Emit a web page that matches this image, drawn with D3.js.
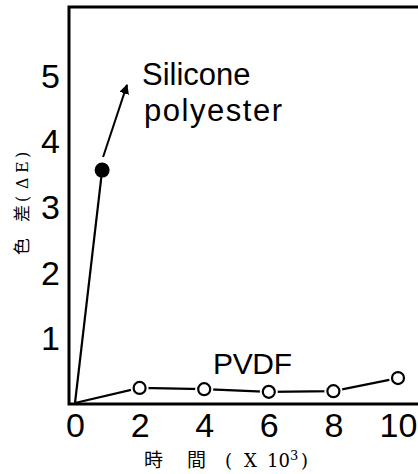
<!DOCTYPE html>
<html>
<head>
<meta charset="utf-8">
<script src="https://cdn.jsdelivr.net/npm/d3@7"></script>
<style>
  html, body { margin: 0; padding: 0; background: #fff; }
  svg { display: block; }
</style>
</head>
<body>
<svg id="chart" width="418" height="474"></svg>
<script>
// Colour difference (ΔE) against exposure time (×10³)
const xTicks = [0, 2, 4, 6, 8, 10];
const yTicks = [1, 2, 3, 4, 5];

const pvdfTime = [0, 2, 4, 6, 8, 10];
const pvdfDE   = [0, 0.23, 0.21, 0.17, 0.18, 0.38];

const siliconeTime = [0, 0.84];
const siliconeDE   = [0, 3.55];

// trend arrow continuing past the last silicone polyester reading
const trendTime = [0.87, 1.61];
const trendDE   = [3.75, 4.85];

const W = 418, H = 474;
const frame = { left: 69, top: 7, bottom: 404 };

const svg = d3.select("#chart");

const x = d3.scaleLinear().domain([0, 10]).range([75, 398]);
const y = d3.scaleLinear().domain([0, 5]).range([403, 75]);

const tickFont = "'Liberation Sans', Arial, sans-serif";

// frame: left, top and bottom rules (right side runs off the page)
svg.append("path")
  .attr("d", `M${W + 5},${frame.top} H${frame.left} V${frame.bottom} H${W + 5}`)
  .attr("fill", "none")
  .attr("stroke", "#000")
  .attr("stroke-width", 3);

// x axis tick labels
const xAxis = d3.axisBottom(x).tickValues(xTicks).tickSize(0).tickPadding(9)
  .tickFormat(d3.format("d"));
const gx = svg.append("g").attr("transform", `translate(0,${frame.bottom})`).call(xAxis);
gx.select(".domain").remove();
gx.selectAll("text")
  .attr("font-family", tickFont)
  .attr("font-size", 34)
  .attr("fill", "#000");

// y axis tick labels
const yAxis = d3.axisLeft(y).tickValues(yTicks).tickSize(0).tickPadding(9)
  .tickFormat(d3.format("d"));
const gy = svg.append("g").attr("transform", `translate(${frame.left},0)`).call(yAxis);
gy.select(".domain").remove();
gy.selectAll("text")
  .attr("font-family", tickFont)
  .attr("font-size", 34)
  .attr("dy", "0.36em")
  .attr("fill", "#000");

const line = d3.line().x(d => x(d[0])).y(d => y(d[1]));

// silicone polyester
const siliconePts = d3.zip(siliconeTime, siliconeDE);
svg.append("path")
  .attr("d", line(siliconePts))
  .attr("fill", "none")
  .attr("stroke", "#000")
  .attr("stroke-width", 2.2);

svg.append("defs").append("marker")
  .attr("id", "arrow")
  .attr("viewBox", "0 0 10 10")
  .attr("refX", 9).attr("refY", 5)
  .attr("markerWidth", 5).attr("markerHeight", 5)
  .attr("markerUnits", "strokeWidth")
  .attr("orient", "auto")
  .append("path")
  .attr("d", "M0,0 L10,5 L0,10 z")
  .attr("fill", "#000");

svg.append("path")
  .attr("d", line(d3.zip(trendTime, trendDE)))
  .attr("fill", "none")
  .attr("stroke", "#000")
  .attr("stroke-width", 2)
  .attr("marker-end", "url(#arrow)");

svg.append("circle")
  .attr("cx", x(siliconeTime[1]))
  .attr("cy", y(siliconeDE[1]))
  .attr("r", 7.5)
  .attr("fill", "#000");

// PVDF
const pvdfPts = d3.zip(pvdfTime, pvdfDE);
svg.append("path")
  .attr("d", line(pvdfPts))
  .attr("fill", "none")
  .attr("stroke", "#000")
  .attr("stroke-width", 2.2);

const markers = pvdfPts.slice(1);
svg.selectAll("circle.halo").data(markers).join("circle")
  .attr("class", "halo")
  .attr("cx", d => x(d[0])).attr("cy", d => y(d[1]))
  .attr("r", 9)
  .attr("fill", "#fff");
svg.selectAll("circle.pvdf").data(markers).join("circle")
  .attr("class", "pvdf")
  .attr("cx", d => x(d[0])).attr("cy", d => y(d[1]))
  .attr("r", 6)
  .attr("fill", "#fff")
  .attr("stroke", "#000")
  .attr("stroke-width", 2.2);

// series labels
svg.append("text")
  .attr("x", 142).attr("y", 85)
  .attr("font-family", tickFont).attr("font-size", 31)
  .text("Silicone");
svg.append("text")
  .attr("x", 144).attr("y", 121)
  .attr("font-family", tickFont).attr("font-size", 31)
  .attr("textLength", 138).attr("lengthAdjust", "spacing")
  .text("polyester");
svg.append("text")
  .attr("x", 213).attr("y", 374)
  .attr("font-family", tickFont).attr("font-size", 30)
  .attr("textLength", 79).attr("lengthAdjust", "spacing")
  .text("PVDF");

// axis titles
const serif = "'DejaVu Serif', serif";
const cjk = "'Noto Sans CJK JP', sans-serif";

const xt = svg.append("text")
  .attr("y", 467)
  .attr("font-family", serif).attr("font-size", 18)
  .attr("fill", "#000");
xt.append("tspan").attr("x", 144).attr("font-family", cjk).attr("font-size", 19).text("時");
xt.append("tspan").attr("x", 187).attr("font-family", cjk).attr("font-size", 19).text("間");
xt.append("tspan").attr("x", 225).text("(");
xt.append("tspan").attr("x", 244).text("X");
xt.append("tspan").attr("x", 267).text("10");
xt.append("tspan").attr("x", 290).attr("y", 460).attr("font-size", 13).text("3");
xt.append("tspan").attr("x", 301).attr("y", 467).text(")");

const yt = svg.append("text")
  .attr("transform", "translate(28,255) rotate(-90)")
  .attr("font-family", serif).attr("font-size", 16)
  .attr("fill", "#000");
yt.append("tspan").attr("x", 0).attr("font-family", cjk).attr("font-size", 17).text("色");
yt.append("tspan").attr("x", 33).attr("font-family", cjk).attr("font-size", 17).text("差");
yt.append("tspan").attr("x", 53).text("(");
yt.append("tspan").attr("x", 66).text("Δ");
yt.append("tspan").attr("x", 82).text("E");
yt.append("tspan").attr("x", 97).text(")");
</script>
</body>
</html>
